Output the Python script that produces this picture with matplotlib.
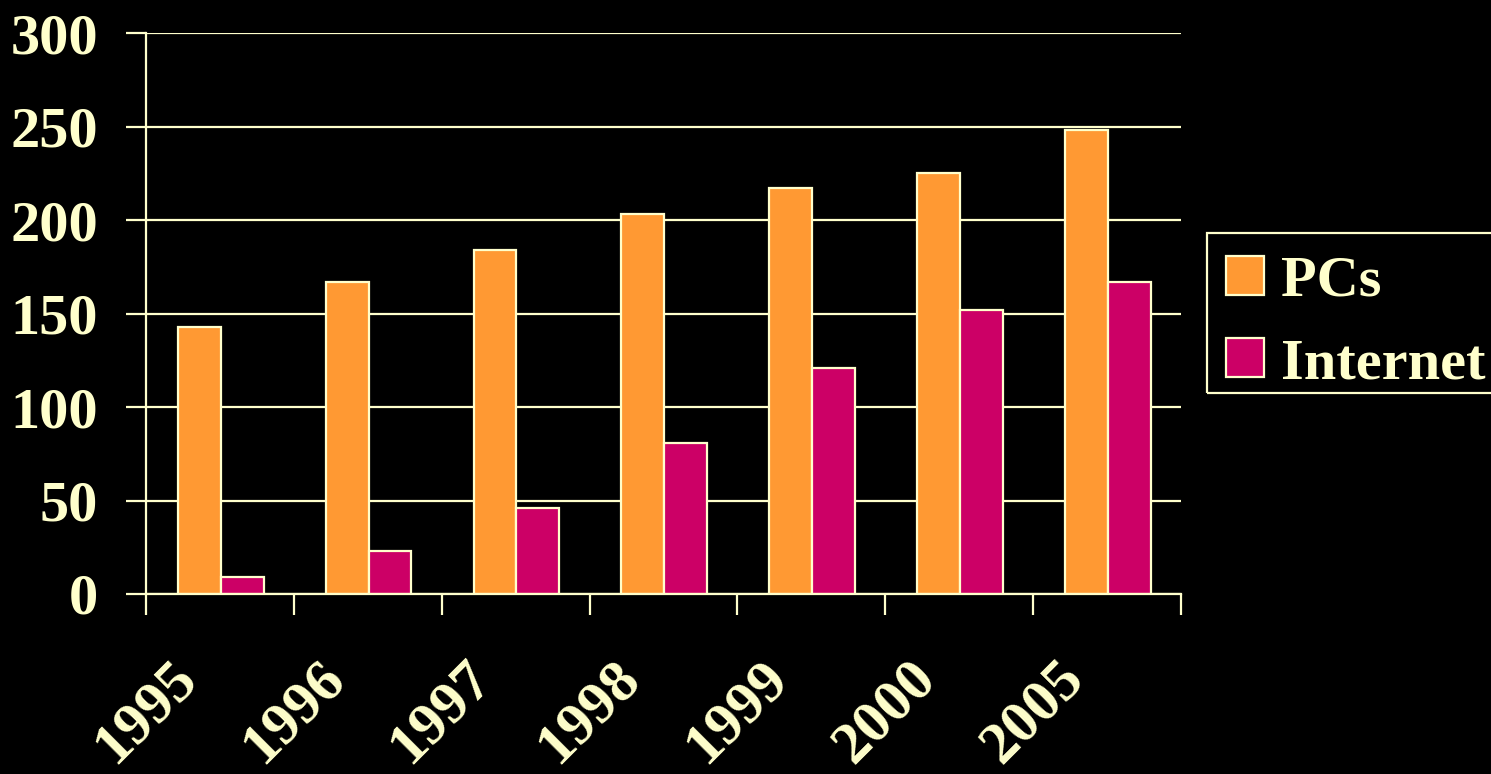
import matplotlib
matplotlib.use("Agg")
import matplotlib.pyplot as plt
from matplotlib.patches import Rectangle
import numpy as np

years = ["1995", "1996", "1997", "1998", "1999", "2000", "2005"]
pcs = [143, 167, 184, 203, 217, 225, 248]
internet = [9, 23, 46, 81, 121, 152, 167]
series_names = ["PCs", "Internet"]
y_ticks = [0, 50, 100, 150, 200, 250, 300]

CREAM = "#FFFFCC"
ORANGE = "#FF9933"
MAGENTA = "#CC0066"

plt.rcParams['font.family'] = ['Liberation Serif', 'DejaVu Serif']
plt.rcParams['font.weight'] = 'bold'

fig = plt.figure(figsize=(14.91, 7.74), dpi=100, facecolor='black')
ax = fig.add_axes([146/1491, 1 - 594/774, (1181-146)/1491, (594-33)/774])
ax.set_facecolor('black')

x = np.arange(len(years))
w = 0.29
ax.bar(x - w/2 + 0.005, pcs, width=w, color=ORANGE, edgecolor=CREAM, linewidth=1.6,
       label=series_names[0], zorder=3)
ax.bar(x + w/2 + 0.005, internet, width=w, color=MAGENTA, edgecolor=CREAM, linewidth=1.6,
       label=series_names[1], zorder=3)

ax.set_xlim(-0.5, len(years) - 0.5)
ax.set_ylim(0, 300)
ax.set_yticks(y_ticks)
ax.set_yticklabels([str(v) for v in y_ticks])
ax.yaxis.grid(True, color=CREAM, linewidth=1.6, zorder=0)
ax.set_axisbelow(True)

bounds = np.arange(len(years) + 1) - 0.5
ax.set_xticks(bounds)
ax.set_xticklabels(years + [""], rotation=45, ha='center')

for s in ['top', 'right']:
    ax.spines[s].set_visible(False)
for s in ['left', 'bottom']:
    ax.spines[s].set_color(CREAM)
    ax.spines[s].set_linewidth(1.6)
    ax.spines[s].set_zorder(4)

ax.tick_params(axis='y', direction='out', length=14.5, width=1.6, color=CREAM,
               labelcolor=CREAM, labelsize=42, pad=20)
ax.tick_params(axis='x', direction='out', length=15, width=1.6, color=CREAM,
               labelcolor=CREAM, labelsize=43, pad=26)
for lab in ax.get_xticklabels() + ax.get_yticklabels():
    lab.set_fontweight('bold')

leg = ax.legend(loc='upper left', bbox_to_anchor=(1207/1491, 1 - 236.5/774),
                bbox_transform=fig.transFigure, borderaxespad=0,
                prop={'family': 'Liberation Serif', 'weight': 'bold', 'size': 42},
                handlelength=0.64, handleheight=0.64, handletextpad=0.3,
                labelspacing=0.52, borderpad=0.33, frameon=False)
for t in leg.get_texts():
    t.set_color(CREAM)

fig.add_artist(Rectangle((1207/1491, 1 - 393/774), 400/1491, 160/774,
                         transform=fig.transFigure, fill=False,
                         edgecolor=CREAM, linewidth=1.6))

fig.savefig("out.png", dpi=100, facecolor='black')
